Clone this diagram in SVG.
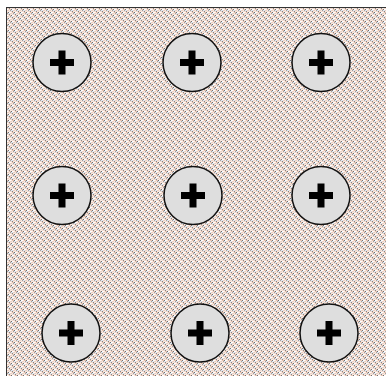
<svg xmlns="http://www.w3.org/2000/svg" width="386" height="376" viewBox="0 0 386 376">
<style>
.c{fill:#dedede;stroke:#111;stroke-width:1.5}
.p{stroke:#000;stroke-width:7;fill:none}
</style>
<defs>
<pattern id="dots" width="6" height="6" patternUnits="userSpaceOnUse">
<rect width="6" height="6" fill="#f4ebe6"/>
<rect x="0" y="0" width="2" height="1" fill="#e9c1ae"/>
<rect x="3" y="3" width="2" height="1" fill="#e9c1ae"/>
<rect x="2" y="0" width="1" height="1" fill="#6f7070"/>
<rect x="5" y="3" width="1" height="1" fill="#6f7070"/>
<rect x="1" y="1" width="1" height="1" fill="#9aa0a4"/>
<rect x="4" y="4" width="1" height="1" fill="#9aa0a4"/>
<rect x="3" y="0" width="2" height="1" fill="#ffffff"/>
<rect x="0" y="3" width="2" height="1" fill="#ffffff"/>
<rect x="2" y="1" width="2" height="1" fill="#dfe8f2"/>
<rect x="5" y="4" width="1" height="1" fill="#dfe8f2"/>
<rect x="0" y="4" width="1" height="1" fill="#dfe8f2"/>
<rect x="4" y="1" width="2" height="1" fill="#efcfbf"/>
<rect x="1" y="4" width="2" height="1" fill="#efcfbf"/>
<rect x="0" y="2" width="3" height="1" fill="#f1d8cc"/>
<rect x="3" y="5" width="3" height="1" fill="#f1d8cc"/>
<rect x="3" y="2" width="1" height="1" fill="#858585"/>
<rect x="0" y="5" width="1" height="1" fill="#858585"/>
</pattern>
<g id="btn"><circle class="c" r="29"/><path class="p" d="M-12 0H12M0 -12V12"/></g>
</defs>
<rect x="6.5" y="7.5" width="390" height="380" fill="url(#dots)" stroke="#333" stroke-width="1"/>
<g id="n1" transform="translate(62,62.5)"><use href="#btn"/></g>
<g id="n2" transform="translate(192,62.5)"><use href="#btn"/></g>
<g id="n3" transform="translate(321,62.5)"><use href="#btn"/></g>
<g id="n4" transform="translate(62,195.5)"><use href="#btn"/></g>
<g id="n5" transform="translate(193,195.5)"><use href="#btn"/></g>
<g id="n6" transform="translate(321,195.5)"><use href="#btn"/></g>
<g id="n7" transform="translate(71,333)"><use href="#btn"/></g>
<g id="n8" transform="translate(200,333)"><use href="#btn"/></g>
<g id="n9" transform="translate(329,333)"><use href="#btn"/></g>
<g id="connectors"></g>
</svg>
